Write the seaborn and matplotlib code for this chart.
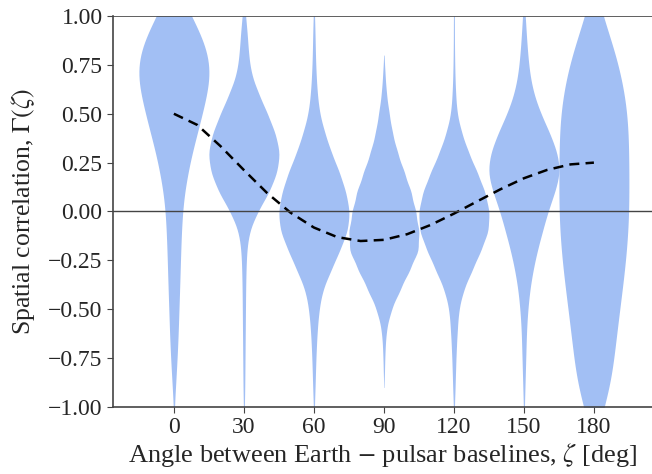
import numpy as np
import pandas as pd
import seaborn as sns
import matplotlib.pyplot as plt

sns.set_style("ticks")
plt.rcParams['font.family'] = ['Liberation Serif', 'DejaVu Serif']
plt.rcParams['mathtext.fontset'] = 'stix'

# violin width profile at each correlation level
levels = [-1.1, -1.0, -0.9, -0.8, -0.7, -0.6, -0.5, -0.4, -0.3, -0.2, -0.1, 0.0,
          0.1, 0.2, 0.3, 0.4, 0.5, 0.6, 0.7, 0.8, 0.9, 1.0, 1.1]
angles = [0, 30, 60, 90, 120, 150, 180]
w_0 = [0, 2, 9, 15, 21, 25, 28, 32, 35, 38, 42, 47, 58, 78, 100, 130, 158, 184, 206, 195, 155, 97, 45]
w_30 = [0, 3, 5, 6, 7, 8, 9, 10, 12, 16, 30, 78, 145, 190, 207, 180, 135, 85, 42, 27, 20, 10, 0]
w_60 = [0, 3, 7, 10, 14, 20, 30, 50, 100, 150, 198, 210, 187, 150, 102, 64, 33, 20, 13, 9, 7, 4, 0]
w_90 = [0, 0, 1, 4, 7, 15, 43, 95, 150, 204, 207, 187, 160, 120, 80, 50, 31, 15, 7, 1, 0, 0, 0]
w_120 = [0, 3, 7, 10, 14, 20, 28, 55, 105, 155, 200, 205, 180, 135, 85, 45, 18, 10, 6, 4, 3, 3, 0]
w_150 = [0, 3, 6, 9, 12, 15, 22, 33, 51, 75, 105, 135, 175, 207, 190, 147, 95, 55, 33, 22, 14, 8, 0]
w_180 = [30, 60, 95, 112, 125, 138, 153, 167, 182, 193, 202, 207, 207, 207, 206, 204, 198, 182, 160, 130, 93, 53, 20]

# Hellings-Downs curve
hd_angles = [0, 10, 20, 30, 40, 50, 60, 70, 80, 90, 100, 110, 120, 130, 140, 150, 160, 170, 180]
hd_values = [0.5, 0.443, 0.334, 0.212, 0.094, -0.006, -0.082, -0.131, -0.151, -0.145,
             -0.116, -0.069, -0.011, 0.052, 0.114, 0.170, 0.213, 0.241, 0.25]

widths = [w_0, w_30, w_60, w_90, w_120, w_150, w_180]
frames = []
for ang, w in zip(angles, widths):
    vals = np.repeat(levels, w)
    frames.append(pd.DataFrame({'angle': ang, 'corr': vals}))
df = pd.concat(frames, ignore_index=True)

fig = plt.figure(figsize=(6.52, 4.74), dpi=100)
ax = fig.add_axes([0.1733, 0.1414, 0.8267, 0.8248])

sns.violinplot(data=df, x='angle', y='corr', native_scale=True, ax=ax,
               inner=None, cut=0, bw_method=0.2, density_norm='width',
               width=1.0, color='cornflowerblue', saturation=1, linewidth=0,
               alpha=0.6)
sns.lineplot(x=hd_angles, y=hd_values, ax=ax, color='k', ls='--', lw=1.8,
             dashes=False)
ax.lines[-1].set_dashes([4, 2.5])

ax.axhline(0, color='#444444', lw=1.0)
ax.axhline(1, color='#444444', lw=1.2)
ax.set_xlim(-26.1, 204.9)
ax.set_ylim(-1, 1)
ax.set_xticks(angles)
yt = np.arange(-1, 1.01, 0.25)
ax.set_yticks(yt)
ax.set_yticklabels([f"{t:.2f}".replace('-', '\u2212') for t in yt])
sns.despine(ax=ax, top=True, right=True)
for s in ['left', 'bottom']:
    ax.spines[s].set_color('#444444')
    ax.spines[s].set_linewidth(1.2)
ax.tick_params(labelsize=17, color='#444444', length=4)
ax.set_xlabel(r'Angle between Earth $-$ pulsar baselines, $\zeta$ [deg]',
              fontsize=19, labelpad=2)
ax.set_ylabel(r'Spatial correlation, $\Gamma(\zeta)$', fontsize=18.5, labelpad=8)

fig.savefig('out.png', dpi=100)
